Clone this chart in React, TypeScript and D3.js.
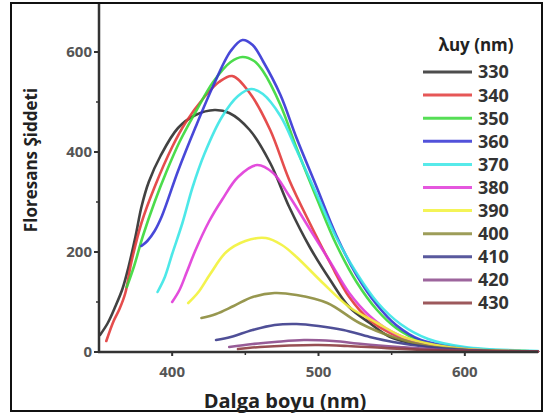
import React from "react";
import * as d3 from "d3";

const xTicks = [400, 500, 600];
const xMinor = [450, 550];
const yTicks = [0, 200, 400, 600];
const yMinor = [100, 300, 500];

const seriesNames = ["330", "340", "350", "360", "370", "380", "390", "400", "410", "420", "430"];
const seriesColors = ["#2e2e2e", "#e23a3a", "#38d838", "#3434d4", "#3ae6e6", "#e03ad8", "#f2f23a", "#8c8c3c", "#3c3c8c", "#8c4a8c", "#8c3c40"];

const s330: [number, number][] = [[350.7,34],[356,58],[361,90],[366,126],[370,168],[375,232],[379,290],[384,340],[392,392],[404,448],[416,474],[429,484],[439,478],[453,444],[467,378],[480,290],[494,210],[508,144],[521,90],[535,58],[549,30],[570,14],[600,5],[650,1]];
const s340: [number, number][] = [[355,22],[360,62],[364,86],[368,118],[372,178],[379,258],[388,330],[400,410],[409,458],[422,510],[432,540],[441,552],[453,518],[467,444],[480,344],[494,258],[508,178],[521,110],[535,64],[549,38],[570,16],[600,6],[650,1]];
const s350: [number, number][] = [[369,130],[374,172],[380,232],[388,300],[396,360],[405,420],[416,480],[428,540],[440,580],[448,590],[456,582],[462,562],[474,494],[485,408],[499,306],[512,216],[526,140],[540,84],[553,48],[570,22],[600,7],[650,1]];
const s360: [number, number][] = [[379,212],[383,222],[388,242],[393,272],[404,362],[416,450],[428,532],[440,602],[448,624],[455,614],[462,582],[474,514],[485,428],[499,328],[512,234],[526,154],[540,94],[553,54],[570,24],[600,8],[650,1]];
const s370: [number, number][] = [[390,120],[395,150],[400,196],[407,258],[414,330],[422,396],[434,470],[445,512],[454,526],[462,516],[474,472],[485,404],[499,314],[512,230],[526,158],[540,100],[556,56],[575,26],[600,10],[650,2]];
const s380: [number, number][] = [[400,100],[405,124],[410,160],[416,204],[425,260],[434,304],[445,350],[458,374],[469,358],[480,312],[494,246],[508,180],[521,118],[535,72],[549,42],[570,18],[600,6],[650,1]];
const s390: [number, number][] = [[411,98],[418,120],[426,156],[437,200],[450,222],[464,228],[475,214],[485,190],[503,138],[521,90],[540,58],[558,30],[580,14],[600,6],[650,1]];
const s400: [number, number][] = [[420,68],[430,76],[442,92],[455,110],[470,118],[485,114],[506,98],[528,58],[551,30],[575,12],[600,5],[650,1]];
const s410: [number, number][] = [[430,24],[440,30],[455,44],[470,54],[485,56],[500,52],[517,44],[535,30],[551,20],[575,10],[600,4],[650,1]];
const s420: [number, number][] = [[439,10],[455,16],[470,20],[490,24],[510,22],[530,16],[555,10],[580,5],[610,2],[650,1]];
const s430: [number, number][] = [[445,6],[460,10],[480,13],[500,14],[520,12],[545,8],[575,4],[610,2],[650,1]];

const seriesData = [s330, s340, s350, s360, s370, s380, s390, s400, s410, s420, s430];

export default function App() {
  const W = 548, H = 418;
  const x = d3.scaleLinear().domain([350, 650]).range([99, 538]);
  const y = d3.scaleLinear().domain([0, 600]).range([352, 52]);
  const line = d3.line<[number, number]>().x(d => x(d[0])).y(d => y(d[1])).curve(d3.curveCatmullRom.alpha(0.5));
  const font = "'Open Sans', Arial, sans-serif";
  const axisColor = "#333";
  const legendY0 = 72, legendStep = 23.1;

  return (
    <svg width={W} height={H} style={{ position: "absolute", left: 0, top: 0, background: "#fff" }}>
      <rect x={0} y={0} width={W} height={H} fill="#fff" />
      <rect x={11} y={3} width={531} height={408} fill="none" stroke="#111" strokeWidth={2} />
      <g>
        {seriesData.map((d, i) => (
          <path key={i} d={line(d) || ""} fill="none" stroke={seriesColors[i]} strokeWidth={2.6} strokeOpacity={0.9} strokeLinecap="round" />
        ))}
      </g>
      <line x1={x(350)} x2={x(350)} y1={4} y2={y(0)} stroke={axisColor} strokeWidth={2.5} />
      <line x1={x(350) - 1} x2={x(650)} y1={y(0)} y2={y(0)} stroke={axisColor} strokeWidth={2.5} />
      {yTicks.map(t => (
        <g key={t}>
          <line x1={x(350) - 5} x2={x(350)} y1={y(t)} y2={y(t)} stroke={axisColor} strokeWidth={2} />
          <text x={x(350) - 7} y={y(t)} dy="0.35em" textAnchor="end" fontFamily={font} fontWeight="bold" fontSize={15} fill="#555">{t}</text>
        </g>
      ))}
      {yMinor.map(t => (
        <line key={t} x1={x(350) - 3} x2={x(350)} y1={y(t)} y2={y(t)} stroke={axisColor} strokeWidth={1.5} />
      ))}
      {xTicks.map(t => (
        <g key={t}>
          <line x1={x(t)} x2={x(t)} y1={y(0)} y2={y(0) + 4} stroke={axisColor} strokeWidth={2} />
          <text x={x(t)} y={372} dy="0.35em" textAnchor="middle" fontFamily={font} fontWeight="bold" fontSize={15} fill="#555">{t}</text>
        </g>
      ))}
      {xMinor.map(t => (
        <line key={t} x1={x(t)} x2={x(t)} y1={y(0)} y2={y(0) + 3} stroke={axisColor} strokeWidth={1.5} />
      ))}
      <text x={285} y={401} dy="0.35em" textAnchor="middle" fontFamily={font} fontWeight="bold" fontSize={20} fill="#222">Dalga boyu (nm)</text>
      <text transform="translate(31,160) rotate(-90)" dy="0.35em" textAnchor="middle" fontFamily={font} fontWeight="bold" fontSize={17} fill="#222">Floresans Şiddeti</text>
      <text x={476} y={45} dy="0.35em" textAnchor="middle" fontFamily={font} fontWeight="bold" fontSize={17} fill="#222">λuy (nm)</text>
      {seriesNames.map((n, i) => (
        <g key={n}>
          <line x1={423} x2={472} y1={legendY0 + i * legendStep} y2={legendY0 + i * legendStep} stroke={seriesColors[i]} strokeWidth={3} strokeOpacity={0.85} />
          <text x={478} y={legendY0 + i * legendStep} dy="0.36em" fontFamily={font} fontWeight="bold" fontSize={18} fill="#333">{n}</text>
        </g>
      ))}
    </svg>
  );
}
